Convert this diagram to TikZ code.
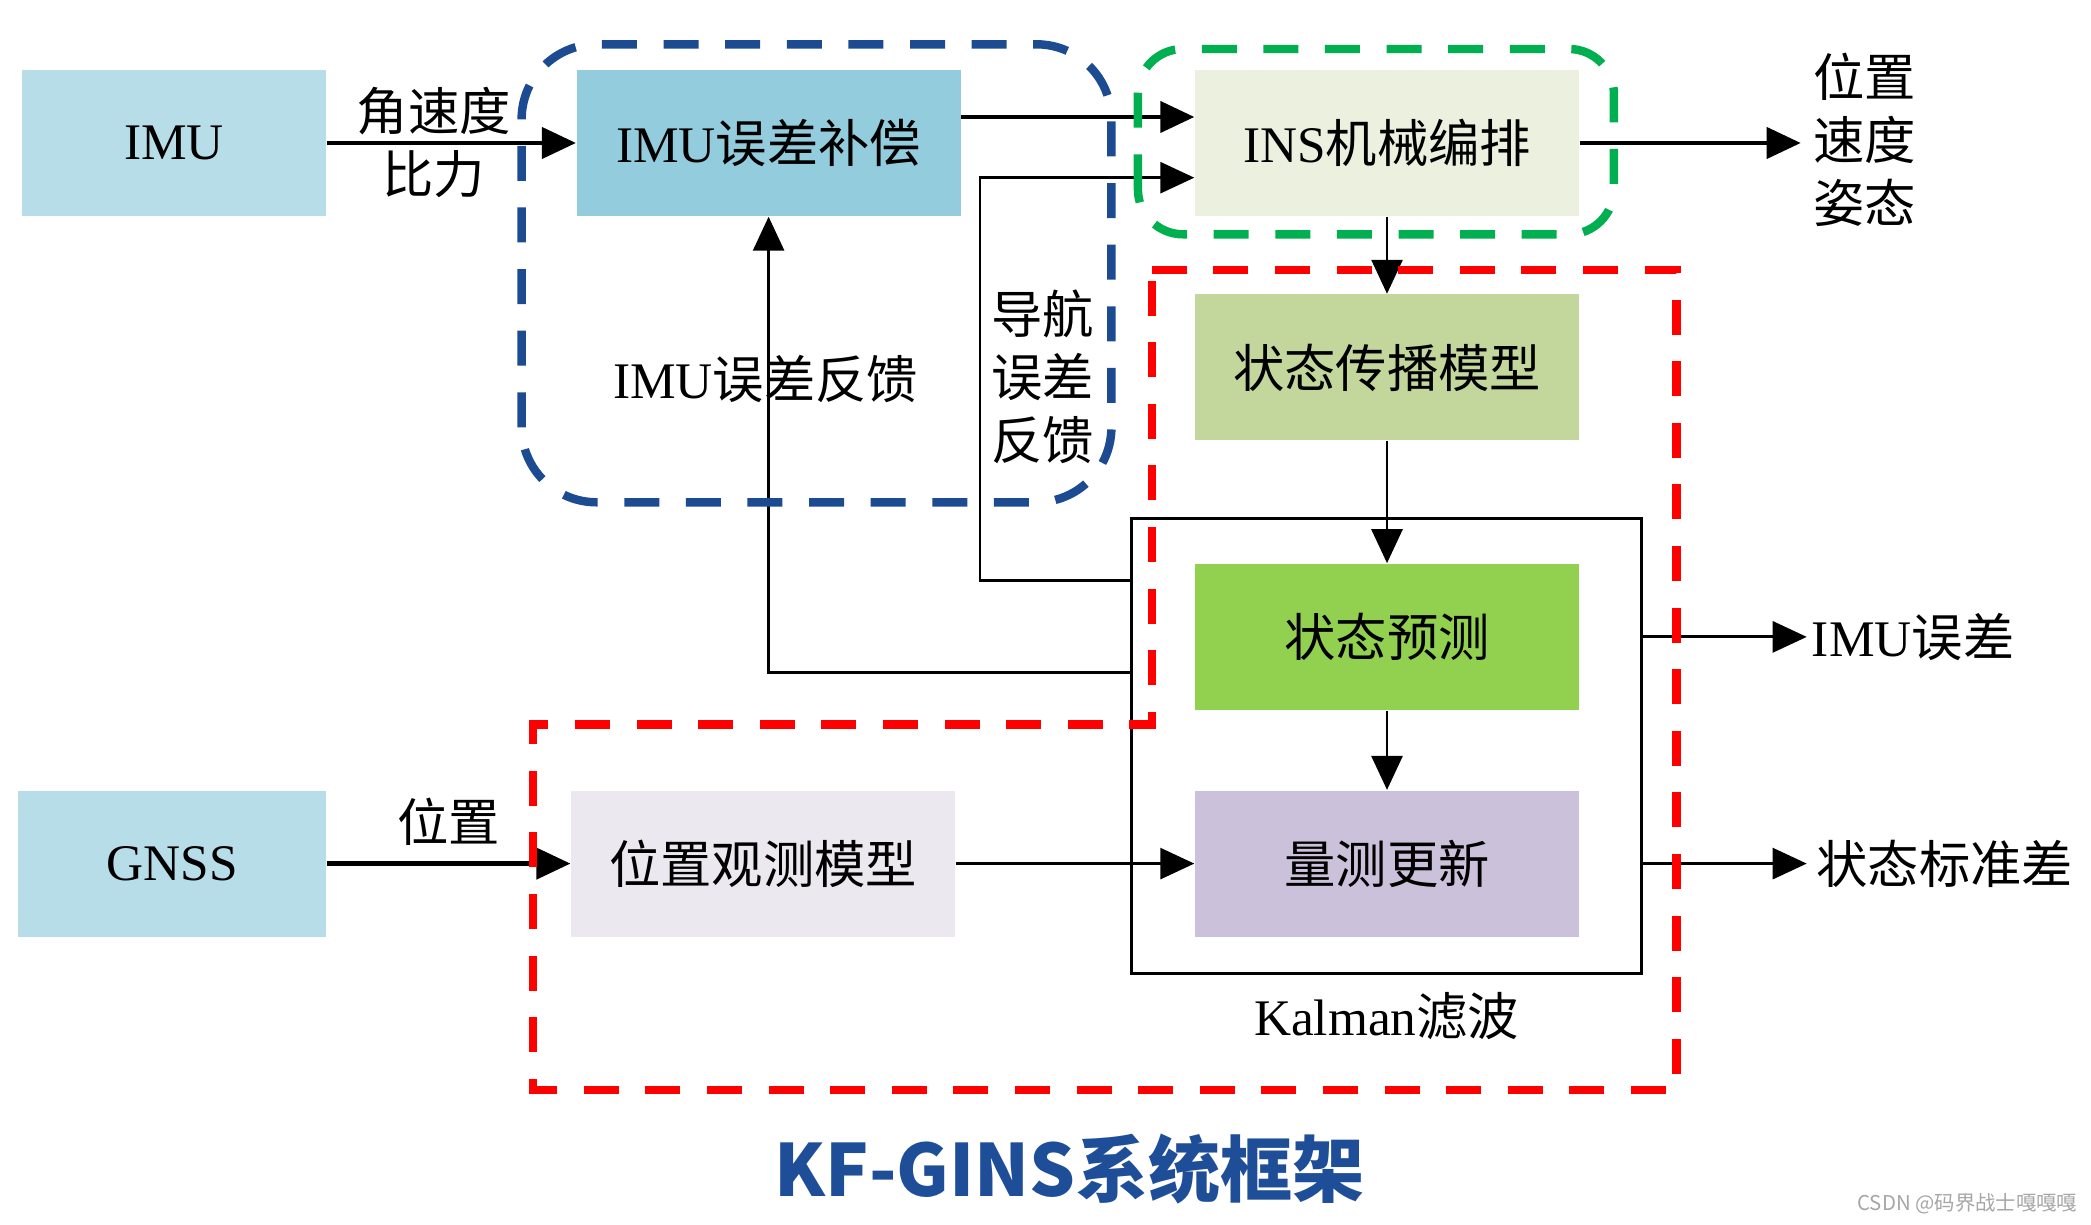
\documentclass[tikz,border=0pt]{standalone}
\usepackage{fontspec}
\setmainfont{Noto Sans CJK SC}
\newfontfamily\tnr{Liberation Serif}
\usetikzlibrary{arrows.meta,positioning}
\definecolor{imublue}{HTML}{B7DEE8}
\definecolor{compblue}{HTML}{93CDDD}
\definecolor{insgreen}{HTML}{EBF1DE}
\definecolor{propgreen}{HTML}{C3D69B}
\definecolor{predgreen}{HTML}{92D050}
\definecolor{updpurple}{HTML}{CCC1DA}
\definecolor{obsgray}{HTML}{EBE8F0}
\definecolor{frameblue}{HTML}{1D4B92}
\definecolor{framegreen}{HTML}{00B050}
\definecolor{titleblue}{HTML}{1F4E99}
\begin{document}
\begin{tikzpicture}
  [block/.style={minimum width=3.84cm,minimum height=1.46cm,inner sep=0pt,font=\fontsize{14.6}{17.9}\selectfont},
   lbl/.style={inner sep=0pt,align=center,font=\fontsize{14.6}{17.9}\selectfont},
   conn/.style={line width=0.8pt,-{Triangle[length=3.4mm,width=3.1mm]}},
   bconn/.style={conn,line width=1.2pt},
   frame/.style={line width=2.4pt,dash pattern=on 3.5mm off 2.66mm}]
  \useasboundingbox (0,0) rectangle (20.91,12.24);
  % blocks
  \node[block,fill=imublue,minimum width=3.04cm] (imu) at (1.74,10.81) {\tnr IMU};
  \node[block,fill=compblue] (comp) at (7.686,10.81) {{\tnr IMU}误差补偿};
  \node[block,fill=insgreen] (ins) at (13.87,10.81) {{\tnr INS}机械编排};
  \node[block,fill=propgreen] (prop) at (13.87,8.565) {状态传播模型};
  \node[block,fill=predgreen] (pred) at (13.87,5.871) {状态预测};
  \node[block,fill=updpurple] (upd) at (13.87,3.604) {量测更新};
  \node[block,fill=imublue,minimum width=3.08cm] (gnss) at (1.724,3.604) {\tnr GNSS};
  \node[block,fill=obsgray] (obs) at (7.631,3.604) {位置观测模型};
  \node[draw,line width=0.8pt,minimum width=5.1cm,minimum height=4.553cm] (kf) at (13.866,4.78) {};
  \node[lbl,below=1.7mm of kf] (kflbl) {{\tnr Kalman}滤波};
  % outputs
  \node[lbl,inner xsep=1.2mm] (pva) at (18.647,10.843) {位置\\速度\\姿态};
  \node[lbl,anchor=west,inner xsep=0.45mm] (imuerr) at (18.067,5.871) {{\tnr IMU}误差};
  \node[lbl,anchor=west,inner xsep=0.9mm] (std) at (18.067,3.604) {状态标准差};
  \draw[bconn] (imu) -- (comp) node[lbl,pos=.43,above=0.6mm] {角速度} node[lbl,pos=.43,below=0.5mm] {比力};
  \draw[bconn] ([yshift=2.6mm]comp.east) -- ([yshift=2.6mm]ins.west);
  \draw[bconn] (ins) -- (ins -| pva.west);
  \draw[conn] (ins) -- (prop);
  \draw[conn] (prop) -- (pred);
  \draw[conn] (pred) -- (upd);
  \draw[bconn] (gnss) -- (obs) node[lbl,midway,above=1.6mm] {位置};
  \draw[conn] (obs) -- (upd);
  \draw[conn] (kf.east |- imuerr) -- (imuerr);
  \draw[conn] (kf.east |- std) -- (std);
  % feedback
  \draw[conn] ([yshift=16.54mm]kf.west) -- ++(-1.503,0) |- ([yshift=-3.47mm]ins.west);
  \draw[conn] ([yshift=7.32mm]kf.west) -| (comp.south);
  \node[lbl] (navlbl) at (10.428,8.473) {导航\\误差\\反馈};
  \node[lbl] (imufblbl) at (7.656,8.45) {{\tnr IMU}误差反馈};
  % frames
  \draw[frame,frameblue,rounded corners=7.5mm] (5.216,7.217) rectangle (11.114,11.797);
  \draw[frame,framegreen,rounded corners=4.5mm] (11.379,9.897) rectangle (16.139,11.75);
  \draw[frame,red] (11.518,9.54) -- (16.765,9.54) -- (16.765,1.341) -- (5.332,1.341) -- (5.332,4.996) -- (11.518,4.996) -- cycle;
  % title
  \node[font=\fontsize{20.5}{24}\selectfont\bfseries,text=titleblue] (title) at (10.695,0.547) {KF-GINS系统框架};
  \node[font=\fontsize{5.8}{7}\selectfont,text=black!35,anchor=east,inner sep=0pt] (mark) at (20.78,0.2) {CSDN @码界战士嘎嘎嘎};
\end{tikzpicture}
\end{document}
